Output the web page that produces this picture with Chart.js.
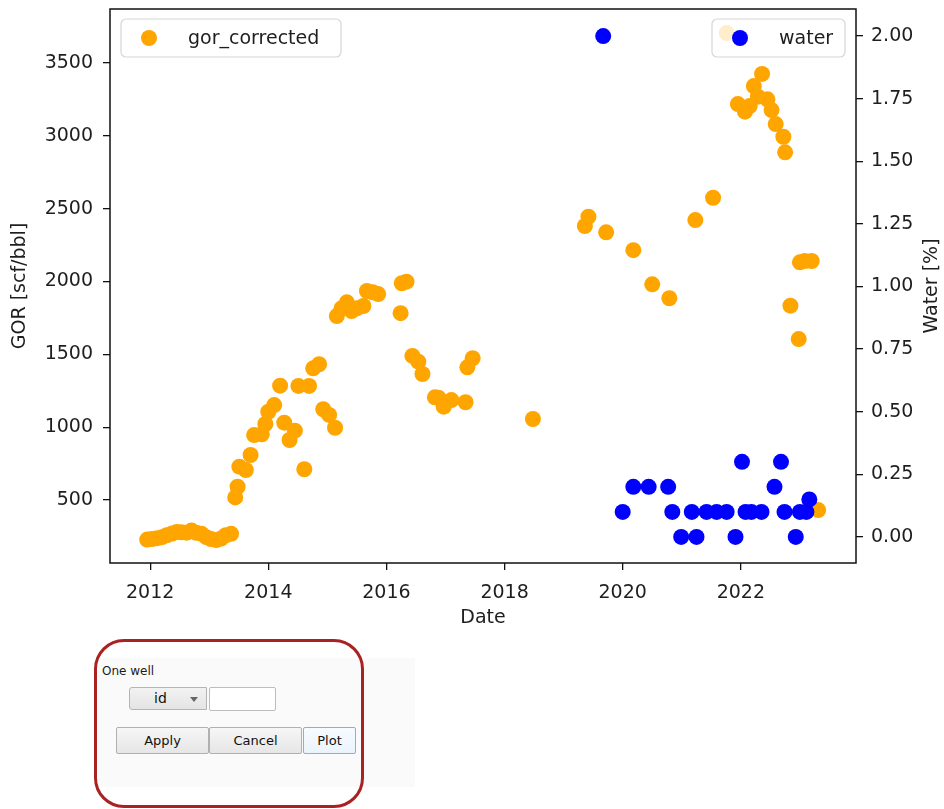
<!DOCTYPE html>
<html>
<head>
<meta charset="utf-8">
<title>GOR / water</title>
<script src="https://cdn.jsdelivr.net/npm/chart.js@4.4.0/dist/chart.umd.min.js"></script>
<style>
  body { margin: 0; width: 944px; height: 809px; overflow: hidden; position: relative; background: #fff; font-family: 'DejaVu Sans', sans-serif; }
  #plot { position: absolute; left: 0; top: 0; }
  .panel { position: absolute; left: 98px; top: 658px; width: 317px; height: 129px; background: #fafafa; }
  .ring { position: absolute; left: 94px; top: 639px; width: 264px; height: 163px; border: 3px solid #a82222; border-radius: 30px; }
  .lbl { position: absolute; left: 102px; top: 664px; font-size: 12px; color: #1a1a1a; }
  .combo { position: absolute; left: 129px; top: 687px; width: 78px; height: 23px; border: 1px solid #b4b4b4; border-radius: 3px 0 0 3px;
           background: linear-gradient(#f2f2f2, #e4e4e4); box-sizing: border-box; font-size: 14px; color: #111; }
  .combo span { position: absolute; left: 24px; top: 2px; }
  .combo i { position: absolute; left: 60px; top: 9px; width: 0; height: 0; border-left: 4px solid transparent; border-right: 4px solid transparent; border-top: 5px solid #666; }
  .field { position: absolute; left: 209px; top: 687px; width: 67px; height: 24px; border: 1px solid #bdbdbd; border-radius: 2px; background: #fff; box-sizing: border-box; }
  .btn { position: absolute; top: 727px; height: 27px; box-sizing: border-box; border: 1px solid #b0b0b0; border-radius: 2px;
         background: linear-gradient(#f6f6f6, #e6e6e6); font-size: 13px; color: #111; text-align: center; line-height: 25px; }
  .btn.on { border-color: #7db3e8; background: linear-gradient(#f7fbff, #eaf3fc); }
</style>
</head>
<body>
<canvas id="plot" width="944" height="630"></canvas>
<div class="panel"></div>
<div class="lbl">One well</div>
<div class="combo"><span>id</span><i></i></div>
<div class="field"></div>
<div class="btn" style="left:116px;width:93px">Apply</div>
<div class="btn" style="left:209px;width:93px">Cancel</div>
<div class="btn on" style="left:303px;width:53px">Plot</div>
<div class="ring"></div>
<script>
// gor_corrected, decimal years
const gorYears = [
  2011.95, 2012.03, 2012.12, 2012.20, 2012.28, 2012.37, 2012.45, 2012.53, 2012.62, 2012.70,
  2012.78, 2012.87, 2012.95, 2013.03, 2013.12, 2013.20, 2013.28, 2013.37,
  2013.44, 2013.48, 2013.51, 2013.62, 2013.70, 2013.76, 2013.89, 2013.95, 2014.00, 2014.10,
  2014.20, 2014.27, 2014.36, 2014.45, 2014.51, 2014.61, 2014.69, 2014.76, 2014.86, 2014.93,
  2015.03, 2015.13, 2015.16, 2015.24, 2015.33, 2015.41, 2015.50, 2015.61, 2015.67, 2015.77,
  2015.86, 2016.24, 2016.26, 2016.34, 2016.44, 2016.54, 2016.61, 2016.82, 2016.88, 2016.97,
  2017.10, 2017.34, 2017.37, 2017.46, 2018.48, 2019.36, 2019.42, 2019.72, 2020.18, 2020.50,
  2020.79, 2021.23, 2021.53, 2021.76, 2021.95, 2022.07, 2022.15, 2022.22, 2022.29, 2022.36,
  2022.45, 2022.52, 2022.59, 2022.72, 2022.75, 2022.84, 2022.98, 2023.00, 2023.08, 2023.20,
  2023.31
];
const gorValues = [
  228, 232, 238, 245, 258, 270, 280, 278, 276, 290,
  275, 268, 245, 232, 225, 235, 258, 268,
  518, 591, 729, 706, 809, 946, 951, 1022, 1106, 1152,
  1285, 1031, 912, 976, 1283, 711, 1283, 1404, 1432, 1123,
  1084, 996, 1763, 1816, 1857, 1797, 1816, 1832, 1935, 1926,
  1914, 1783, 1988, 1999, 1489, 1450, 1365, 1205, 1202, 1141,
  1186, 1171, 1411, 1473, 1056, 2381, 2445, 2338, 2215, 1981,
  1885, 2422, 2575, 3706, 3218, 3166, 3205, 3342, 3269, 3425,
  3251, 3177, 3081, 2994, 2887, 1834, 1605, 2132, 2141, 2141,
  431
];

// water [%]
const waterYears = [
  2019.67, 2020.00, 2020.18, 2020.44, 2020.77, 2020.84, 2020.99, 2021.17, 2021.25, 2021.42,
  2021.59, 2021.76, 2021.91, 2022.02, 2022.08, 2022.18, 2022.35, 2022.57, 2022.68, 2022.74,
  2022.93, 2023.00, 2023.11, 2023.16
];
const waterValues = [
  2.0, 0.1, 0.2, 0.2, 0.2, 0.1, 0.0, 0.1, 0.0, 0.1,
  0.1, 0.1, 0.0, 0.3, 0.1, 0.1, 0.1, 0.2, 0.3, 0.1,
  0.0, 0.1, 0.1, 0.15
];

const dateTicks = [2012, 2014, 2016, 2018, 2020, 2022];
const gorTicks = [500, 1000, 1500, 2000, 2500, 3000, 3500];
const waterTicks = [0, 0.25, 0.5, 0.75, 1.0, 1.25, 1.5, 1.75, 2.0];

const FONT = { family: 'DejaVu Sans', size: 19 };
const INK = '#1e1e1e';
const ORANGE = '#ffa500';
const BLUE = '#0000ff';

function axisStyle(ticksArr) {
  return {
    afterBuildTicks: s => { s.ticks = ticksArr.map(v => ({ value: v })); },
    grid: { display: true, drawOnChartArea: false, drawTicks: true, tickLength: 7, color: '#111', lineWidth: 1.3 },
    border: { display: false },
    ticks: { font: FONT, color: INK }
  };
}

// box, axis titles and the two legends, drawn the matplotlib way
const decorations = {
  id: 'decorations',
  afterDatasetsDraw(chart) {
    const c = chart.ctx;
    const a = chart.chartArea;
    c.save();
    c.font = '19px "DejaVu Sans"';

    function legend(x, y, w, color, text) {
      const h = 38, r = 5;
      c.beginPath();
      c.moveTo(x + r, y);
      c.arcTo(x + w, y, x + w, y + h, r);
      c.arcTo(x + w, y + h, x, y + h, r);
      c.arcTo(x, y + h, x, y, r);
      c.arcTo(x, y, x + w, y, r);
      c.closePath();
      c.fillStyle = 'rgba(255,255,255,0.8)';
      c.fill();
      c.strokeStyle = '#d6d6d6';
      c.lineWidth = 1.2;
      c.stroke();
      c.fillStyle = color;
      c.beginPath();
      c.arc(x + 28, y + h / 2, 8, 0, Math.PI * 2);
      c.fill();
      c.fillStyle = INK;
      c.textBaseline = 'middle';
      c.textAlign = 'left';
      c.fillText(text, x + 67, y + h / 2 + 1);
    }
    legend(121, 19, 220, ORANGE, 'gor_corrected');
    legend(712, 19, 133, BLUE, 'water');

    // frame
    c.strokeStyle = '#111';
    c.lineWidth = 1.5;
    c.strokeRect(a.left, a.top, a.right - a.left, a.bottom - a.top);

    // titles
    c.fillStyle = INK;
    c.textAlign = 'center';
    c.textBaseline = 'middle';
    c.fillText('Date', (a.left + a.right) / 2, 618);
    c.save();
    c.translate(20, (a.top + a.bottom) / 2);
    c.rotate(-Math.PI / 2);
    c.fillText('GOR [scf/bbl]', 0, 0);
    c.restore();
    c.save();
    c.translate(932, (a.top + a.bottom) / 2);
    c.rotate(-Math.PI / 2);
    c.fillText('Water [%]', 0, 0);
    c.restore();
    c.restore();
  }
};

const ctx = document.getElementById('plot').getContext('2d');

new Chart(ctx, {
  type: 'scatter',
  data: {
    datasets: [
      {
        label: 'water',
        data: waterYears.map((x, i) => ({ x, y: waterValues[i] })),
        yAxisID: 'y2',
        backgroundColor: BLUE,
        borderWidth: 0,
        pointRadius: 8,
        order: 0
      },
      {
        label: 'gor_corrected',
        data: gorYears.map((x, i) => ({ x, y: gorValues[i] })),
        yAxisID: 'y',
        backgroundColor: ORANGE,
        borderWidth: 0,
        pointRadius: 8,
        order: 1
      }
    ]
  },
  options: {
    responsive: false,
    animation: false,
    devicePixelRatio: 1,
    layout: { padding: { top: 9, left: 0, right: 0, bottom: 0 } },
    plugins: { legend: { display: false }, tooltip: { enabled: false } },
    scales: {
      x: Object.assign(axisStyle(dateTicks), {
        type: 'linear', position: 'bottom', min: 2011.32, max: 2023.95,
        afterFit: s => { s.height = 67; s.paddingLeft = 0; s.paddingRight = 0; },
        ticks: { font: FONT, color: INK, padding: 12, maxRotation: 0, callback: v => String(v) }
      }),
      y: Object.assign(axisStyle(gorTicks), {
        type: 'linear', position: 'left', min: 67.5, max: 3871,
        afterFit: s => { s.width = 110; s.paddingTop = 0; s.paddingBottom = 0; },
        ticks: { font: FONT, color: INK, padding: 10, callback: v => String(v) }
      }),
      y2: Object.assign(axisStyle(waterTicks), {
        type: 'linear', position: 'right', min: -0.104, max: 2.108,
        afterFit: s => { s.width = 88; s.paddingTop = 0; s.paddingBottom = 0; },
        ticks: { font: FONT, color: INK, padding: 8, callback: v => Number(v).toFixed(2) }
      })
    }
  },
  plugins: [decorations]
});
</script>
</body>
</html>
